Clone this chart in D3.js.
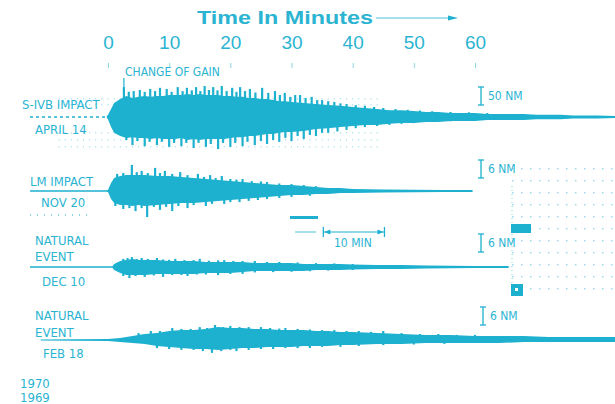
<!DOCTYPE html>
<html>
<head>
<meta charset="utf-8">
<script src="https://cdn.jsdelivr.net/npm/d3@7"></script>
<style>
  body { margin: 0; background: #fff; }
  svg text { fill: #2bb4d2; }
  .lab { font-family: "Liberation Sans Narrow", "DejaVu Sans Condensed", sans-serif; font-size: 13px; }
  .small { font-family: "Liberation Sans Narrow", "DejaVu Sans Condensed", sans-serif; font-size: 12px; }
</style>
</head>
<body>
<div id="chart"></div>
<script>
// tick labels on the time axis (minutes)
var minutes = [0, 10, 20, 30, 40, 50, 60];

// S-IVB impact, April 14 1970 (amplitudes in nm, scale bar 50 nm)
var s4bT  = [-0.2,0,0.5,1,2,3,4,5,6,7,8,9,10,11,12,13,14,15,16,17,18,19,20,21,22,23,24,25,26,27,28,29,30,32,34,36,38,40,42,44,46,48,50,52,54,56,58,60,62,64,66,68,70,72,74,76,78,80,83];
var s4bUp = [2,6,22,39,50,58,53,56,58,56,58,58,61,61,61,64,61,64,61,61,61,58,58,56,56,53,53,50,50,47,44,44,42,39,36,33,31,28,25,22,19,19,17,14,14,11,11,11,8,8,8,8,6,6,6,4,4,4,3];
var s4bDn = [2,6,28,44,53,58,56,58,58,61,58,61,61,61,58,64,61,64,61,61,61,61,58,56,56,53,53,50,47,47,44,42,42,39,33,31,28,25,22,22,19,17,17,14,14,11,11,11,8,8,8,8,6,6,6,4,4,4,3];
var s4bSpikeUpT = [2.6,3.4,4.2,5.2,6,6.9,7.7,8.5,9.6,10.4,11.4,12.2,12.9,13.7,14.4,15.1,15.8,16.5,17.2,17.9,18.6,19.4,20.3,21,21.6,22.4,23.2,24.1,25.2,26.2,27.3,28.1,28.9,29.8,30.6,31.4,32.3,33.3,34.2,35,36,37,38,39,40.5,42,43.5,45,47,49,51,53,56,59,62];
var s4bSpikeUp  = [83,70,72,75,70,78,72,81,78,70,83,72,81,74,83,72,86,75,83,74,86,72,81,70,83,72,78,68,81,67,72,61,67,56,61,61,53,56,47,47,44,42,38,36,33,31,28,25,22,20,18,16,14,13,11];
var s4bSpikeDnT = [2.2,3,4,4.8,6,6.8,8,8.8,10,10.8,12,12.8,14,14.8,16,16.8,18,18.8,20,20.8,22,22.8,24,25,26,27,28,29,30,31,32,33,34,35,36,37.5,39,40.5,42,44,46,48,50,53,56,60];
var s4bSpikeDn  = [50,64,78,67,81,69,78,69,83,72,81,72,86,72,83,75,89,72,83,72,81,69,78,67,75,64,69,58,67,53,61,50,53,44,44,40,36,31,28,25,22,19,17,14,12,11];

// LM impact, Nov 20 1969 (nm, scale bar 6 nm)
var lmT  = [-0.2,0,0.5,1,2,3,4,5,6,8,10,12,14,16,18,20,22,24,26,28,30,32,34,36,38,40,45,50,55,59.6];
var lmUp = [0.2,0.3,2.7,4.3,5,5.3,5.3,5.3,5.3,5,5,4.7,4.3,4,3.7,3.3,3,2.7,2.3,2,2,1.7,1.3,1,1,0.7,0.5,0.4,0.3,0.3];
var lmDn = [0.2,0.3,2.7,4,4.7,4.7,5,4.7,5,4.7,4.3,4,4,3.7,3.3,3,2.7,2.3,2,1.7,1.3,1.3,1,1,0.7,0.7,0.5,0.4,0.3,0.3];
var lmSpikeUpT = [1.5,2.5,3.9,4.7,5.5,6.5,7.7,8.5,9.3,10.5,11.8,13,14.7,15.7,16.7,17.6,18.6,20,21,22,23.5,25,26,28,30,32,34];
var lmSpikeUp  = [5.7,6,8.7,6.3,6.7,6,7.7,6,6.7,5.7,6.3,5.3,5.7,4.7,5.3,4.3,5,4,3.8,4,3.3,3.2,3,2.5,2.3,2,1.6];
var lmSpikeDnT = [1.2,2.5,3.5,4.5,5.5,6.4,7.5,8.5,9.5,10.5,11.5,13,14,16,17,19,20,21.5,23,24.5,26,28,30,33];
var lmSpikeDn  = [5,6,5.7,6.7,5.7,8.7,5.3,6.3,5.3,6.7,5,5.7,4.7,5,4.3,4.3,3.7,3.7,3.3,3,2.7,2.3,2,1.6];

// natural event, Dec 10 1969 (nm, scale bar 6 nm)
var decT  = [0.7,1,2,3,4,5,6,8,10,12,14,16,18,20,22,24,26,28,30,32,34,36,38,40,44,48,52,56,60,65.5];
var decUp = [0.2,1,2,2.3,2.7,2.3,2.3,2.3,2,2,2,1.7,1.7,1.7,1.7,1.3,1.3,1.3,1.3,1,1,1,1,0.8,0.7,0.7,0.5,0.4,0.3,0.3];
var decDn = [0.2,1,2,2.7,2.7,2.7,2.7,2.3,2.3,2.3,2.3,2,2,2,1.7,1.3,1.3,1.3,1.3,1.3,1,1,1,0.8,0.7,0.7,0.5,0.4,0.3,0.3];
var decSpikeUpT = [2.5,3.2,3.9,4.7,5.5,6.5,8,9,10,11,12.5,14,15,16.5,18,19,20.5,22,24,26,28,31,34,37,40];
var decSpikeUp  = [2.7,3,3.3,2.7,3,2.7,3,2.5,2.4,2.7,2.3,2.3,2.7,2.1,2.2,2.3,2,2,2,1.7,1.7,1.5,1.3,1.2,1];
var decSpikeDnT = [2.5,3.5,4.5,6,7.5,9,10.5,12,13,14.5,16,18,20,22,24,27,30,33,36,40];
var decSpikeDn  = [3,3.7,3,3.3,2.8,3.3,2.7,2.7,3,2.5,2.5,2.7,2.3,2.3,1.8,1.7,1.6,1.4,1.2,1];

// natural event, Feb 18 1970 (nm, scale bar 6 nm)
var febT  = [-11,0,2,4,6,8,10,12,14,16,18,20,22,24,26,28,30,32,34,36,38,40,44,48,52,56,60,64,68,72,76,80,83];
var febUp = [0.2,0.3,0.7,1.3,2,2.3,3,3.3,3.3,3.7,4.3,4,4,3.7,3.7,3.3,3.3,3.3,3,3,2.7,2.7,2.3,2,1.7,1.7,1.3,1.3,1.3,1,1,1,1];
var febDn = [0.2,0.3,0.7,1,1.3,2,2.3,2.7,3,3,3.3,3,2.7,2.7,2.3,2.3,2.3,2,2,2,1.7,1.7,1.3,1.3,1,1,1,1,0.7,0.7,0.7,0.7,0.7];
var febSpikeUpT = [5,7,8.5,10.5,12,13.5,15,16.2,17.5,18.8,20,21.5,23,25,26.5,28,29,31,33,35,37,39,41,43,45,48,51,54,57,60];
var febSpikeUp  = [2.3,3,3,4,3.7,3.7,4.3,4,5,4.3,4.7,4.3,4.3,4.3,4,3.8,4,3.7,3.5,3.3,3.3,3,3,2.7,3,2.3,2,2,1.7,1.7];
var febSpikeDnT = [8,10,12,14,15.5,17,18.5,20,21,23,25,27,29,31,33,35,38,41,45,50,55];
var febSpikeDn  = [2.7,3,3.3,3.3,3.7,4.3,3.7,3.3,3.7,3.3,3,3,2.7,2.7,2.7,2.3,2.3,2,1.7,1.5,1.3];

var width = 615, height = 404;
var col = "#1db1cf";

var svg = d3.select("#chart").append("svg").attr("width", width).attr("height", height);

// time scale, 0..60 min
var x = d3.scaleLinear().domain([0, 60]).range([108, 475]);

// amplitude scales (nm -> px)
var amp50 = d3.scaleLinear().domain([0, 50]).range([0, 18]);
var amp6 = d3.scaleLinear().domain([0, 6]).range([0, 18]);

// title
svg.append("text")
    .attr("x", 197).attr("y", 24)
    .attr("textLength", 176).attr("lengthAdjust", "spacingAndGlyphs")
    .style("font-family", "Liberation Sans, Arial, sans-serif")
    .style("font-weight", "bold").style("font-size", "19px")
    .text("Time In Minutes");
svg.append("line")
    .attr("x1", 376).attr("x2", 452).attr("y1", 18).attr("y2", 18)
    .attr("stroke", col).attr("stroke-width", 0.8);
svg.append("path")
    .attr("d", "M448,15.5 L458,18 L448,20.5 Z").attr("fill", col);

// axis along top
var xAxis = d3.axisTop(x).tickValues(minutes).tickSize(5).tickPadding(14);
var gx = svg.append("g")
    .attr("transform", "translate(0,68)")
    .call(xAxis);
gx.select(".domain").remove();
gx.selectAll(".tick line").attr("stroke", "#8fd6e6").attr("stroke-width", 1);
gx.selectAll(".tick text")
    .style("font-family", "Liberation Sans, Arial, sans-serif")
    .style("font-size", "19px")
    .attr("fill", col);

// faint minute timing dots round the S-IVB trace
var dotMin = d3.range(-8, 45);
var dotRows = [98, 104, 132, 139, 146];
dotRows.forEach(function(yy) {
  svg.selectAll(null).data(dotMin).enter().append("rect")
      .attr("x", function(d) { return x(d) - 0.5; })
      .attr("y", yy)
      .attr("width", 1).attr("height", 1.5)
      .attr("fill", "#a9e0ec");
});

// right-hand dot grid
var gridX = d3.range(512, 615, 9);
var gridY = d3.range(168, 300, 12);
gridY.forEach(function(yy) {
  svg.selectAll(null).data(gridX).enter().append("rect")
      .attr("x", function(d) { return d; })
      .attr("y", yy)
      .attr("width", 1.5).attr("height", 1.5)
      .attr("fill", "#9ddbe9");
});
svg.append("line").attr("x1", 512).attr("x2", 512).attr("y1", 186).attr("y2", 298)
    .attr("stroke", "#7fd0e2").attr("stroke-dasharray", "1,3");
svg.append("rect").attr("x", 511).attr("y", 224).attr("width", 20).attr("height", 9).attr("fill", col);
svg.append("rect").attr("x", 511).attr("y", 284).attr("width", 12).attr("height", 12).attr("fill", col);
svg.append("rect").attr("x", 515).attr("y", 288).attr("width", 3).attr("height", 3).attr("fill", "#fff");

function drawTrace(base, tt, up, dn, amp, sUpT, sUp, sDnT, sDn) {
  var pts = tt.map(function(t, i) { return {t: t, u: up[i], d: dn[i]}; });
  var area = d3.area()
      .x(function(d) { return x(d.t); })
      .y0(function(d) { return base + amp(d.d); })
      .y1(function(d) { return base - amp(d.u); });
  svg.append("path").datum(pts).attr("d", area).attr("fill", col);

  // narrow spikes poking out of the envelope
  svg.selectAll(null).data(sUpT).enter().append("rect")
      .attr("x", function(t) { return x(t) - 1.1; })
      .attr("y", function(t, i) { return base - amp(sUp[i]); })
      .attr("width", 2.2)
      .attr("height", function(t, i) { return amp(sUp[i]); })
      .attr("fill", col);
  svg.selectAll(null).data(sDnT).enter().append("rect")
      .attr("x", function(t) { return x(t) - 1.1; })
      .attr("y", base)
      .attr("width", 2.2)
      .attr("height", function(t, i) { return amp(sDn[i]); })
      .attr("fill", col);
}

// pre-event baselines
svg.append("line").attr("x1", 30).attr("x2", x(0)).attr("y1", 117).attr("y2", 117)
    .attr("stroke", col).attr("stroke-width", 1.4).attr("stroke-dasharray", "3,3");
svg.append("line").attr("x1", 30).attr("x2", x(0)).attr("y1", 191).attr("y2", 191)
    .attr("stroke", col).attr("stroke-width", 1.4);
svg.append("line").attr("x1", 30).attr("x2", x(0.8)).attr("y1", 267).attr("y2", 267)
    .attr("stroke", col).attr("stroke-width", 1.4);
svg.append("line").attr("x1", 30).attr("x2", 92).attr("y1", 215).attr("y2", 215)
    .attr("stroke", col).attr("stroke-width", 1.2).attr("stroke-dasharray", "1,6");

drawTrace(117, s4bT, s4bUp, s4bDn, amp50, s4bSpikeUpT, s4bSpikeUp, s4bSpikeDnT, s4bSpikeDn);
drawTrace(191, lmT, lmUp, lmDn, amp6, lmSpikeUpT, lmSpikeUp, lmSpikeDnT, lmSpikeDn);
drawTrace(267, decT, decUp, decDn, amp6, decSpikeUpT, decSpikeUp, decSpikeDnT, decSpikeDn);
drawTrace(340, febT, febUp, febDn, amp6, febSpikeUpT, febSpikeUp, febSpikeDnT, febSpikeDn);

// change of gain marker
svg.append("line").attr("x1", x(2.6)).attr("x2", x(2.6)).attr("y1", 78).attr("y2", 92)
    .attr("stroke", col).attr("stroke-width", 1.2);
svg.append("text").attr("class", "small").attr("x", 125).attr("y", 76).text("CHANGE OF GAIN");

// scale bars
function scaleBar(bx, yTop, amp, v, label) {
  var h = amp(v);
  svg.append("line").attr("x1", bx).attr("x2", bx).attr("y1", yTop).attr("y2", yTop + h)
      .attr("stroke", col).attr("stroke-width", 1.3);
  [yTop, yTop + h].forEach(function(yy) {
    svg.append("line").attr("x1", bx - 3).attr("x2", bx + 3).attr("y1", yy).attr("y2", yy)
        .attr("stroke", col).attr("stroke-width", 1.3);
  });
  svg.append("text").attr("class", "small").attr("x", bx + 7).attr("y", yTop + h / 2 + 4).text(label);
}
scaleBar(481, 87, amp50, 50, "50 NM");
scaleBar(481, 160, amp6, 6, "6 NM");
scaleBar(481, 234, amp6, 6, "6 NM");
scaleBar(483, 307, amp6, 6, "6 NM");

// 10 minute bracket
var b0 = x(35.2), b1 = x(45.2);
svg.append("line").attr("x1", b0).attr("x2", b1).attr("y1", 232).attr("y2", 232)
    .attr("stroke", col).attr("stroke-width", 1);
[b0, b1].forEach(function(bx) {
  svg.append("line").attr("x1", bx).attr("x2", bx).attr("y1", 227).attr("y2", 237)
      .attr("stroke", col).attr("stroke-width", 1.3);
});
svg.append("path").attr("d", "M" + (b0 + 1) + ",232 L" + (b0 + 7) + ",229.5 L" + (b0 + 7) + ",234.5Z").attr("fill", col);
svg.append("path").attr("d", "M" + (b1 - 1) + ",232 L" + (b1 - 7) + ",229.5 L" + (b1 - 7) + ",234.5Z").attr("fill", col);
svg.append("line").attr("x1", x(30.6)).attr("x2", x(34)).attr("y1", 232).attr("y2", 232)
    .attr("stroke", col).attr("stroke-width", 0.8);
svg.append("text").attr("class", "small").attr("x", 334).attr("y", 247).text("10 MIN");
svg.append("rect").attr("x", 290).attr("y", 216).attr("width", 28).attr("height", 3).attr("fill", col);

// trace labels
var labels = [
  ["S-IVB IMPACT", 22, 109], ["APRIL 14", 35, 134],
  ["LM IMPACT", 30, 186], ["NOV 20", 41, 207],
  ["NATURAL", 35, 245], ["EVENT", 35, 261], ["DEC 10", 42, 286],
  ["NATURAL", 35, 320], ["EVENT", 35, 337], ["FEB 18", 43, 358],
  ["1970", 20, 388], ["1969", 20, 402]
];
svg.selectAll(".lab").data(labels).enter().append("text")
    .attr("class", "lab")
    .attr("x", function(d) { return d[1]; })
    .attr("y", function(d) { return d[2]; })
    .text(function(d) { return d[0]; });
</script>
</body>
</html>
